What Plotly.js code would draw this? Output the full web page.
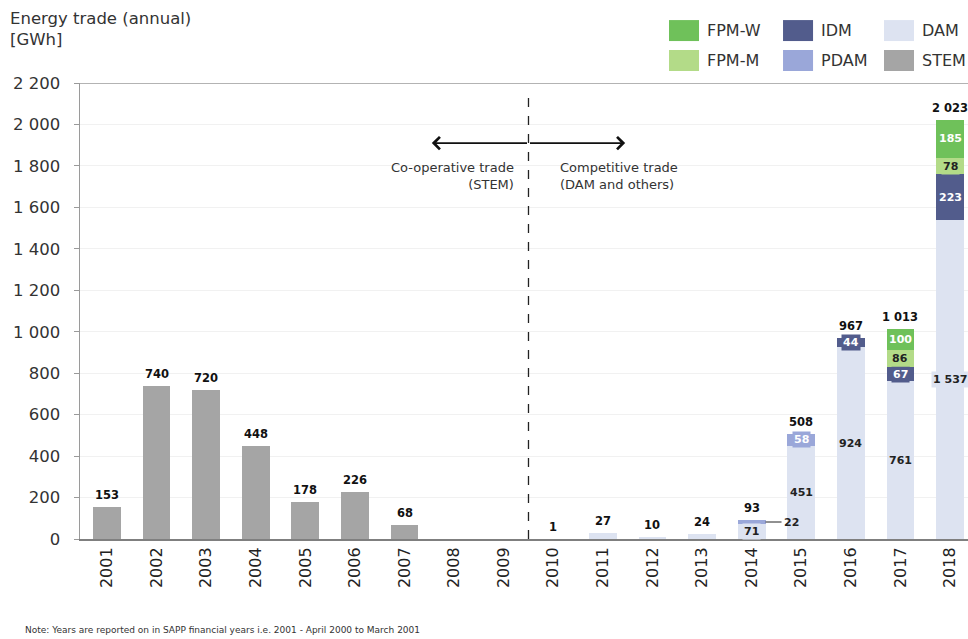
<!DOCTYPE html>
<html>
<head>
<meta charset="utf-8">
<script src="https://cdn.plot.ly/plotly-3.0.1.min.js"></script>
<style>
  html, body { margin: 0; padding: 0; background: #ffffff; }
  #chart { width: 968px; height: 639px; }
</style>
</head>
<body>
<div id="chart"></div>
<script>
// ---------------- DATA ----------------
const years = ['2001','2002','2003','2004','2005','2006','2007','2008','2009',
               '2010','2011','2012','2013','2014','2015','2016','2017','2018'];

const stem  = [153, 740, 720, 448, 178, 226, 68, null, null, null, null, null, null, null, null, null, null, null];
const dam   = [null, null, null, null, null, null, null, null, null, 1, 27, 10, 24, 71, 451, 924, 761, 1537];
const pdam  = [null, null, null, null, null, null, null, null, null, null, null, null, null, 22, 58, null, null, null];
const idm   = [null, null, null, null, null, null, null, null, null, null, null, null, null, null, null, 44, 67, 223];
const fpmM  = [null, null, null, null, null, null, null, null, null, null, null, null, null, null, null, null, 86, 78];
const fpmW  = [null, null, null, null, null, null, null, null, null, null, null, null, null, null, null, null, 100, 185];

// total labels shown above each bar
const totalLabels = ['153','740','720','448','178','226','68','','',
                     '1','27','10','24','93','508','967','1 013','2 023'];

// segment labels shown inside bars
const damLabels  = ['','','','','','','','','','','','','','71','451','924','761','1 537'];
const pdamLabels = ['','','','','','','','','','','','','','','58','','',''];
const idmLabels  = ['','','','','','','','','','','','','','','','44','67','223'];
const fpmMLabels = ['','','','','','','','','','','','','','','','','86','78'];
const fpmWLabels = ['','','','','','','','','','','','','','','','','100','185'];

// y-axis ticks
const yTickVals = [0, 200, 400, 600, 800, 1000, 1200, 1400, 1600, 1800, 2000, 2200];
const yTickText = ['0','200','400','600','800','1 000','1 200','1 400','1 600','1 800','2 000','2 200'];

// ---------------- STYLE ----------------
const FONT = 'DejaVu Sans, Verdana, sans-serif';
const series = [
  {name: 'STEM',  values: stem, color: '#a5a5a5', labels: null,       txt: '#222'},
  {name: 'DAM',   values: dam,  color: '#dde3f1', labels: damLabels,  txt: '#222'},
  {name: 'PDAM',  values: pdam, color: '#9aa7d9', labels: pdamLabels, txt: '#ffffff'},
  {name: 'IDM',   values: idm,  color: '#525c8c', labels: idmLabels,  txt: '#ffffff'},
  {name: 'FPM-M', values: fpmM, color: '#b3db88', labels: fpmMLabels, txt: '#222'},
  {name: 'FPM-W', values: fpmW, color: '#6fc15a', labels: fpmWLabels, txt: '#ffffff'}
];

const traces = series.map(s => ({
  type: 'bar',
  name: s.name,
  x: years,
  y: s.values,
  width: 0.56,
  marker: {color: s.color, line: {width: 0}},
  showlegend: false,
  hovertemplate: '%{x}: %{y} GWh<extra>' + s.name + '</extra>'
}));

const annotations = [];

// segment labels at middle of each stacked segment
const base = years.map(() => 0);
series.forEach(s => {
  s.values.forEach((v, i) => {
    const val = v || 0;
    const lab = s.labels ? s.labels[i] : '';
    if (lab && !(s.name === 'PDAM' && years[i] === '2014')) {
      annotations.push({
        x: i, y: base[i] + val / 2, xref: 'x', yref: 'y',
        text: '<b>' + lab + '</b>', showarrow: false,
        font: {family: FONT, size: 11, color: s.txt},
        bgcolor: s.color, borderpad: 1
      });
    }
    base[i] += val;
  });
});

// 2014 PDAM label outside with leader line
{
  const i = years.indexOf('2014');
  const v = dam[i] + pdam[i] / 2;
  annotations.push({
    x: i + 0.28, y: v, xref: 'x', yref: 'y', text: '<b>' + pdam[i] + '</b>',
    showarrow: true, arrowhead: 0, arrowwidth: 1, arrowcolor: '#222',
    ax: 16, ay: 0, xanchor: 'left',
    font: {family: FONT, size: 11, color: '#222'}
  });
}

// totals above bars
years.forEach((yr, i) => {
  if (!totalLabels[i]) return;
  annotations.push({
    x: i, y: base[i], xref: 'x', yref: 'y', text: '<b>' + totalLabels[i] + '</b>',
    showarrow: false, yanchor: 'bottom', yshift: 3,
    font: {family: FONT, size: 11.5, color: '#111'}
  });
});

// double arrow around dashed divider
annotations.push({
  x: 6.55, y: 1910, ax: 8.5, ay: 1910, xref: 'x', yref: 'y', axref: 'x', ayref: 'y',
  text: '', showarrow: true, arrowhead: 4, arrowsize: 1.5, arrowwidth: 1.6, arrowcolor: '#111'
});
annotations.push({
  x: 10.45, y: 1910, ax: 8.5, ay: 1910, xref: 'x', yref: 'y', axref: 'x', ayref: 'y',
  text: '', showarrow: true, arrowhead: 4, arrowsize: 1.5, arrowwidth: 1.6, arrowcolor: '#111'
});
annotations.push({
  x: 8.5, y: 1750, xref: 'x', yref: 'y', xanchor: 'right', yanchor: 'middle', xshift: -12,
  text: 'Co-operative trade<br>(STEM)', align: 'right', showarrow: false,
  font: {family: FONT, size: 13, color: '#333'}
});
annotations.push({
  x: 8.5, y: 1750, xref: 'x', yref: 'y', xanchor: 'left', yanchor: 'middle', xshift: 30,
  text: 'Competitive trade<br>(DAM and others)', align: 'left', showarrow: false,
  font: {family: FONT, size: 13, color: '#333'}
});

// axis title (top-left)
annotations.push({
  x: -0.081, y: 1.167, xref: 'paper', yref: 'paper', xanchor: 'left', yanchor: 'top',
  text: 'Energy trade (annual)<br>[GWh]', align: 'left', showarrow: false,
  font: {family: FONT, size: 16.5, color: '#333'}
});

// note
annotations.push({
  x: -0.064, y: -0.2, xref: 'paper', yref: 'paper', xanchor: 'left', yanchor: 'middle',
  text: 'Note: Years are reported on in SAPP financial years i.e. 2001 - April 2000 to March 2001',
  showarrow: false, font: {family: FONT, size: 9, color: '#333'}
});

// custom legend (swatches + labels), order as in reference
const legendItems = [
  {name: 'FPM-W', color: '#6fc15a', col: 0, row: 0},
  {name: 'IDM',   color: '#525c8c', col: 1, row: 0},
  {name: 'DAM',   color: '#dde3f1', col: 2, row: 0},
  {name: 'FPM-M', color: '#b3db88', col: 0, row: 1},
  {name: 'PDAM',  color: '#9aa7d9', col: 1, row: 1},
  {name: 'STEM',  color: '#a5a5a5', col: 2, row: 1}
];
const colX0 = [0.6633, 0.7917, 0.9054];
const swW = 0.0338;
const rowY = [[1.092, 1.138], [1.0263, 1.0724]];
const shapes = [];
legendItems.forEach(it => {
  shapes.push({
    type: 'rect', xref: 'paper', yref: 'paper',
    x0: colX0[it.col], x1: colX0[it.col] + swW,
    y0: rowY[it.row][0], y1: rowY[it.row][1],
    fillcolor: it.color, line: {width: 0}
  });
  annotations.push({
    x: colX0[it.col] + swW + 0.007, y: (rowY[it.row][0] + rowY[it.row][1]) / 2,
    xref: 'paper', yref: 'paper', xanchor: 'left', yanchor: 'middle',
    text: it.name, showarrow: false,
    font: {family: FONT, size: 16, color: '#333'}
  });
});

// dashed divider between 2009 and 2010
shapes.push({
  type: 'line', xref: 'x', yref: 'y', x0: 8.5, x1: 8.5, y0: 0, y1: 2130,
  line: {color: '#222', width: 1.3, dash: 'dash'}
});
// top frame line
shapes.push({
  type: 'line', xref: 'paper', yref: 'y', x0: 0, x1: 1, y0: 2200, y1: 2200,
  line: {color: '#9a9a9a', width: 1.5}
});

const layout = {
  width: 968, height: 639,
  margin: {l: 80, r: 0, t: 83, b: 100},
  paper_bgcolor: '#ffffff', plot_bgcolor: '#ffffff',
  barmode: 'stack',
  font: {family: FONT, color: '#333'},
  xaxis: {
    type: 'category',
    range: [-0.544, 17.363],
    tickangle: -90,
    tickfont: {family: FONT, size: 16, color: '#222'},
    showline: true, linecolor: '#7f7f7f', linewidth: 2,
    ticks: '', showgrid: false, zeroline: false,
    fixedrange: true
  },
  yaxis: {
    range: [0, 2200],
    tickvals: yTickVals, ticktext: yTickText,
    tickfont: {family: FONT, size: 16.5, color: '#333'},
    showline: true, linecolor: '#9a9a9a', linewidth: 1.5,
    ticks: 'outside', ticklen: 5, tickcolor: '#9a9a9a',
    ticklabelstandoff: 10,
    showgrid: true, gridcolor: '#f1f1f1', gridwidth: 1,
    zeroline: false, fixedrange: true
  },
  annotations: annotations,
  shapes: shapes,
  showlegend: false
};

Plotly.newPlot('chart', traces, layout, {displayModeBar: false, staticPlot: true});
</script>
</body>
</html>
